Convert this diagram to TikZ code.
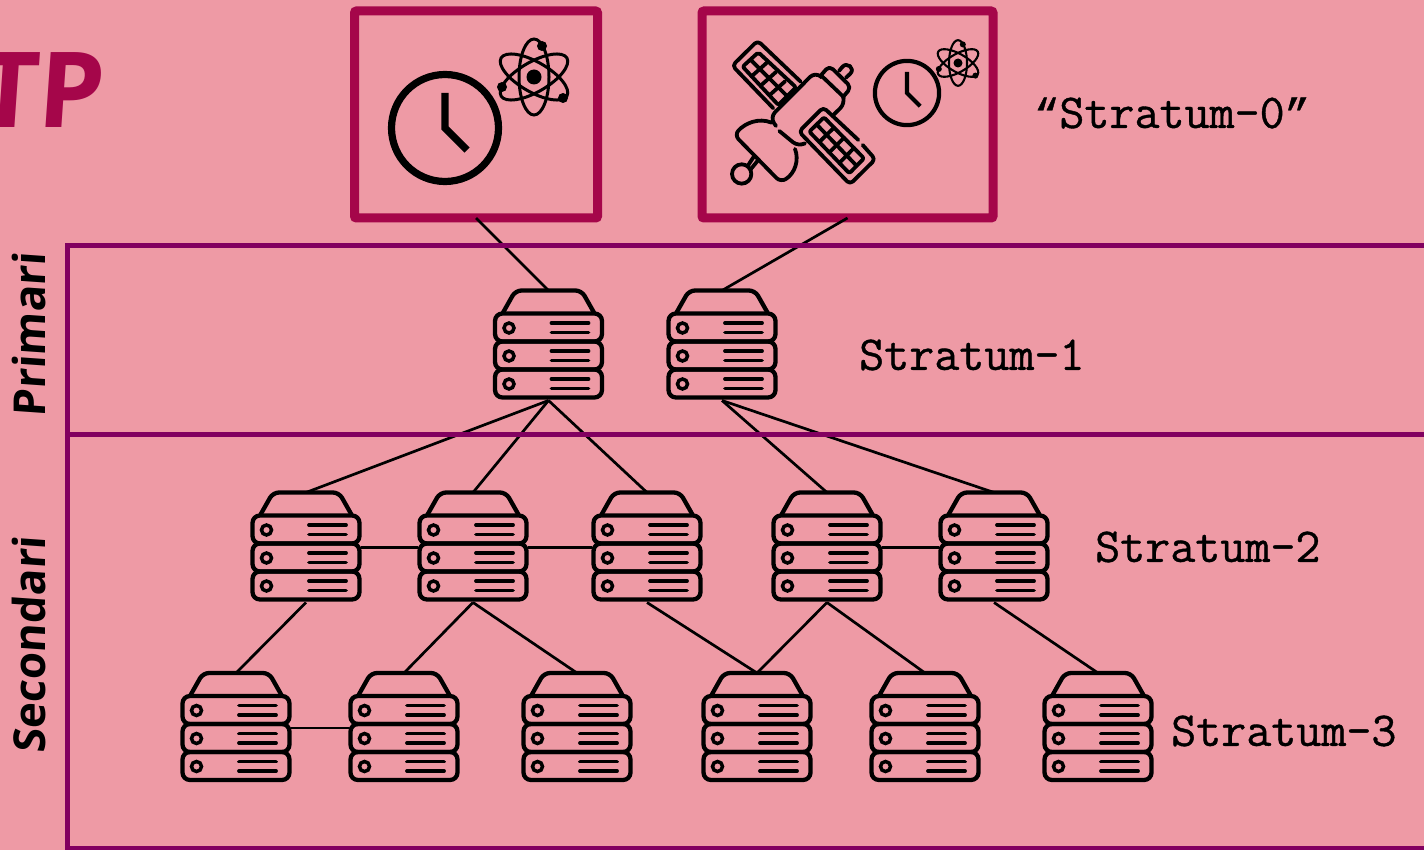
\documentclass[tikz,border=0pt]{standalone}
\usepackage{fontspec}
\newfontfamily\sidefont{Open Sans}[FakeSlant=0.07]
\newfontfamily\stratumfont{Latin Modern Mono}[FakeBold=0.8]
\newfontfamily\quotefont{Liberation Mono}[FakeBold=1]
\definecolor{bgpink}{HTML}{EE9AA5}
\definecolor{framered}{HTML}{A5064A}
\definecolor{bandpurple}{HTML}{820060}
\tikzset{
	srvnode/.style={minimum width=110,minimum height=110,inner sep=0,outer sep=0},
	framebox/.style={draw=framered,line width=9,rounded corners=2,inner sep=0,outer sep=0},
	link/.style={line width=2.7},
	stratumlabel/.style={font=\stratumfont\fontsize{48.6}{48.6}\selectfont,anchor=west,inner sep=0},
	sidelabel/.style={font=\sidefont\bfseries\fontsize{44}{44}\selectfont,rotate=90,inner sep=0},
	band/.style={draw=bandpurple,line width=5},
	server/.pic={
		\draw[line width=4.3,rounded corners=6,line join=round] (-46,-32) -- (-33,-55) -- (33,-55) -- (46,-32);
		\foreach \top in {-32,-4,24} {
			\draw[line width=4.3,rounded corners=7.5] (-53.5,\top) rectangle (53.5,\top+28);
			\draw[line width=3.5] (-39.5,\top+14.5) circle (5);
			\draw[line width=3.8,line cap=round] (3,\top+9.5) -- (40,\top+9.5);
			\draw[line width=3.8,line cap=round] (3,\top+19) -- (40,\top+19);
		}
	},
	atomic/.pic={
		\foreach \angle in {0,60,120} {
			\draw[rotate=\angle] (0,0) ellipse (15 and 38);
		}
		\fill (0,0) circle (7.5);
		\fill (8,-31) circle (5);
		\fill (-32,10) circle (5);
		\fill (29,21) circle (5);
	},
	clockface/.pic={
		\draw (0,0) circle (53.5);
		\draw (0,-35) -- (0,0) -- (22,22);
	}
}
\begin{document}
\begin{tikzpicture}[x=1pt,y=-1pt]
	\useasboundingbox (0,0) rectangle (1424,850);
	\fill[bgpink] (0,0) rectangle (1424,850);
	% title, cut by the page edge
	\node[font=\sidefont\bfseries\fontsize{105}{105}\selectfont,text=framered,anchor=base east,inner sep=0] (title) at (103,128) {TP};
	% stratum 0 boxes
	\node[framebox,minimum width=243,minimum height=207] (atombox) at (476,114.5) {};
	\node[framebox,minimum width=291,minimum height=207] (satbox) at (847.5,114.5) {};
	\pic[line width=7.2] at (445,128) {clockface};
	\pic[line width=3] at (534,77) {atomic};
	\pic[scale=0.6,line width=2.1] at (958,63) {atomic};
	\pic[scale=0.6,line width=4.2] at (907,93) {clockface};
	% satellite, in units of a third of a pixel
	\begin{scope}[shift={(690,0)},x=0.3333pt,y=-0.3333pt,line width=3.8,line cap=round,line join=round]
		\draw[rounded corners=4] (332,245) -- (203,122) -- (127,197) -- (250,325);
		\draw[rounded corners=2] (205,157) -- (158,200) -- (265,315) -- (318,262) -- cycle;
		\draw (181.5,179) -- (291.5,288.5);
		\draw (184.8,229) -- (231.8,187) (211.5,257.5) -- (258.5,215.5) (238.2,286) -- (285.2,244);
		\draw[rounded corners=4] (505,420) -- (400,322) -- (327,395) -- (480,553) -- (556,478) -- (518,435);
		\draw[rounded corners=2] (402,352) -- (358,395) -- (478,520) -- (522,475) -- cycle;
		\draw (380,373.5) -- (500,497.5);
		\draw (388,426) -- (432,383) (418,457.5) -- (462,413.5) (448,489) -- (492,444);
		\draw[rounded corners=7] (258,378) -- (240,352) -- (375,216) -- (395,232);
		\draw[rounded corners=5] (393,226) -- (418,197) -- (484,262) -- (460,290);
		\draw (393,226) -- (462,292);
		\draw[rounded corners=7] (460,292) -- (466,310) -- (430,345);
		\draw[rounded corners=7] (268,393) -- (325,440) -- (345,430);
		\draw (447,213) -- (456,202) .. controls (470,183) and (498,205) .. (480,222) -- (468,233);
		\draw[rounded corners=6] (245,368) .. controls (205,352) and (165,370) .. (133,405) -- (272,547) .. controls (315,520) and (328,480) .. (315,447);
		\draw (155,522) circle (29);
		\draw (173,498) -- (190,472) (182,508) -- (205,480);
	\end{scope}
	% servers
	\foreach \name/\x/\y in {pa/548.5/345.5,pb/722/345.5,
		sa/306/547.5,sb/473/547.5,sc/647/547.5,sd/827/547.5,se/994/547.5,
		ta/236/728,tb/404/728,tc/577/728,td/757/728,te/925/728,tf/1098/728} {
		\node[srvnode] (\name) at (\x,\y) {};
		\pic at (\name) {server};
	}
	% connections
	\draw[link] (atombox.south) -- (pa.north);
	\draw[link] (satbox.south) -- (pb.north);
	\foreach \from/\to in {pa/sa,pa/sb,pa/sc,pb/sd,pb/se,sa/ta,sb/tb,sb/tc,sc/td,sd/td,sd/te,se/tf} {
		\draw[link] (\from.south) -- (\to.north);
	}
	\foreach \from/\to in {sa/sb,sb/sc,sd/se,ta/tb} {
		\draw[link] (\from.east) -- (\to.west);
	}
	% bands go over the connections
	\draw[band] (1430,245.7) -- (67.5,245.7) -- (67.5,860);
	\draw[band] (67.5,434.5) -- (1430,434.5);
	\draw[band] (67.5,848.5) -- (1430,848.5);
	% labels
	\node[stratumlabel] (szero) at (1034,113) {{\quotefont\fontsize{42}{42}\selectfont “}Stratum-0{\quotefont\fontsize{42}{42}\selectfont ”}};
	\node[stratumlabel] (sone) at (859,355) {Stratum-1};
	\node[stratumlabel] (stwo) at (1095,547) {Stratum-2};
	\node[stratumlabel] (sthree) at (1171,731) {Stratum-3};
	\node[sidelabel,anchor=base] (primari) at (45,335) {Primari};
	\node[sidelabel,anchor=base] (secondari) at (45,645) {Secondari};
\end{tikzpicture}
\end{document}
